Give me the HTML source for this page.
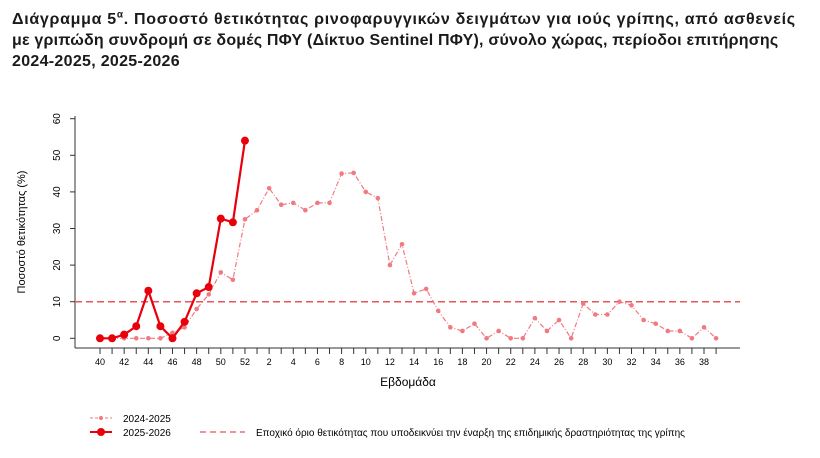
<!DOCTYPE html>
<html><head><meta charset="utf-8"><style>
body{margin:0;background:#fff;width:820px;height:458px;overflow:hidden;font-family:"Liberation Sans",sans-serif}
.t{position:absolute;left:12px;top:9px;font-weight:bold;font-size:16px;line-height:21px;color:#1a1a1a;width:810px;white-space:nowrap}
.t div{letter-spacing:0.7px}
</style></head><body>
<div class="t"><div>Διάγραμμα 5<sup style="font-size:10px;line-height:0">α</sup>. Ποσοστό θετικότητας ρινοφαρυγγικών δειγμάτων για ιούς γρίπης, από ασθενείς</div><div style="letter-spacing:0.2px">με γριπώδη συνδρομή σε δομές ΠΦΥ (Δίκτυο Sentinel ΠΦΥ), σύνολο χώρας, περίοδοι επιτήρησης</div><div style="letter-spacing:0.3px">2024-2025, 2025-2026</div></div>
<svg id="s" width="820" height="458" style="position:absolute;left:0;top:0" font-family="Liberation Sans, sans-serif"></svg>
<script>
var s=document.getElementById('s'),h='';
function X(i){return 100+i*12.08}function Y(v){return 338.3-v*3.66}
h+='<line x1="75" y1="116" x2="75" y2="348" stroke="#333"/>';
for(var v=0;v<=60;v+=10){var y=Y(v);h+='<line x1="70" y1="'+y+'" x2="75" y2="'+y+'" stroke="#333"/><text x="57" y="'+y+'" font-size="10" text-anchor="middle" transform="rotate(-90 57 '+y+')" dy="3">'+v+'</text>';}
h+='<text x="25" y="232" font-size="11" text-anchor="middle" transform="rotate(-90 25 232)">Ποσοστό θετικότητας (%)</text>';
h+='<line x1="75" y1="348" x2="740" y2="348" stroke="#333"/>';
for(var i=0;i<52;i++){var x=X(i),w=(i<13?40+i:i-12);h+='<line x1="'+x+'" y1="348" x2="'+x+'" y2="354" stroke="#333"/>';if(w%2==0)h+='<text x="'+x+'" y="365" font-size="9" text-anchor="middle">'+w+'</text>';}
h+='<text x="408" y="386" font-size="12" text-anchor="middle">Εβδομάδα</text>';
h+='<line x1="75" y1="'+Y(10)+'" x2="740" y2="'+Y(10)+'" stroke="#e8555a" stroke-width="1.5" stroke-dasharray="7,4"/>';
var a=[0,0,0,0,0,0,1.5,3,8,12,18,16,32.5,35,41,36.5,37,35,37,37,45,45.2,40,38.3,20,25.7,12.3,13.5,7.5,3,2,4,0,2,0,0,5.5,2,5,0,9.5,6.5,6.5,10,9,5,4,2,2,0,3,0];
var p=a.map(function(v,i){return X(i)+','+Y(v)}).join(' ');
h+='<polyline points="'+p+'" fill="none" stroke="#f07a80" stroke-width="1.2" stroke-dasharray="5,2,1,2"/>';
a.forEach(function(v,i){h+='<circle cx="'+X(i)+'" cy="'+Y(v)+'" r="2.3" fill="#f07a80"/>'});
var b=[0,0,1,3.3,13,3.3,0,4.5,12.3,14,32.7,31.7,54];
p=b.map(function(v,i){return X(i)+','+Y(v)}).join(' ');
h+='<polyline points="'+p+'" fill="none" stroke="#e8000b" stroke-width="2.2"/>';
b.forEach(function(v,i){h+='<circle cx="'+X(i)+'" cy="'+Y(v)+'" r="4" fill="#e8000b"/>'});
h+='<line x1="90" y1="418" x2="112" y2="418" stroke="#f07a80" stroke-dasharray="3,2"/><circle cx="101" cy="418" r="2" fill="#f07a80"/><text x="123" y="422" font-size="10">2024-2025</text>';
h+='<line x1="90" y1="432" x2="112" y2="432" stroke="#e8000b" stroke-width="2"/><circle cx="101" cy="432" r="4" fill="#e8000b"/><text x="123" y="436" font-size="10">2025-2026</text>';
h+='<line x1="200" y1="432" x2="245" y2="432" stroke="#e8555a" stroke-width="1.3" stroke-dasharray="6,4"/><text x="256" y="436" font-size="10">Εποχικό όριο θετικότητας που υποδεικνύει την έναρξη της επιδημικής δραστηριότητας της γρίπης</text>';
s.innerHTML=h;
</script>
</body></html>
